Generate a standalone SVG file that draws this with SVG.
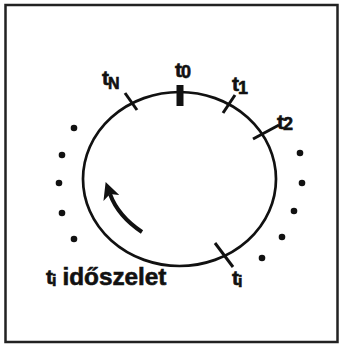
<svg xmlns="http://www.w3.org/2000/svg" width="343" height="344" viewBox="0 0 343 344">
<defs>
<style>
.lbl{font-family:"Liberation Sans",Arial,sans-serif;font-weight:bold;fill:#111;stroke:#111;stroke-width:0.6}
.tick{stroke:#111;stroke-width:3;stroke-linecap:butt}
.dot{fill:#111}
</style>
<marker id="ah" viewBox="0 0 12 12" refX="3" refY="6" markerWidth="17" markerHeight="17" markerUnits="userSpaceOnUse" orient="auto">
<path d="M0,0 L12,6 L0,12 L3,6 Z" fill="#111"/>
</marker>
</defs>
<rect width="343" height="344" fill="#fff"/>
<rect x="5.5" y="5" width="332" height="337" fill="none" stroke="#222" stroke-width="2.5"/>
<g id="clock">
<ellipse cx="179.5" cy="179" rx="96.5" ry="87" fill="none" stroke="#111" stroke-width="2.7"/>
</g>
<g id="connectors">
<line x1="180" y1="85" x2="180" y2="106" stroke="#111" stroke-width="7"/>
<line class="tick" x1="125" y1="93" x2="137" y2="110"/>
<line class="tick" x1="235" y1="95" x2="223" y2="113"/>
<line class="tick" x1="279" y1="125" x2="253" y2="139"/>
<line class="tick" x1="215" y1="243" x2="233" y2="267"/>
<path d="M142,232 Q118,216 110,194" fill="none" stroke="#111" stroke-width="4" marker-end="url(#ah)"/>
</g>
<g id="dots">
<circle class="dot" cx="74" cy="128" r="3.3"/>
<circle class="dot" cx="62" cy="155" r="3.3"/>
<circle class="dot" cx="59" cy="183" r="3.3"/>
<circle class="dot" cx="62" cy="213" r="3.3"/>
<circle class="dot" cx="74" cy="239" r="3.3"/>
<circle class="dot" cx="300" cy="153" r="3.3"/>
<circle class="dot" cx="302" cy="183" r="3.3"/>
<circle class="dot" cx="294" cy="211" r="3.3"/>
<circle class="dot" cx="282" cy="237" r="3.3"/>
<circle class="dot" cx="262" cy="258" r="3.3"/>
</g>
<g id="labels">
<text class="lbl" x="102" y="85" font-size="21">t<tspan font-size="16" dy="4" dx="-1">N</tspan></text>
<text class="lbl" x="175" y="77" font-size="21">t<tspan font-size="18" dy="1" dx="-1">0</tspan></text>
<text class="lbl" x="232" y="91" font-size="21">t<tspan font-size="18" dy="3" dx="-1">1</tspan></text>
<text class="lbl" x="277" y="129" font-size="21">t<tspan font-size="18" dy="1" dx="-1">2</tspan></text>
<text class="lbl" x="232" y="285" font-size="21">t<tspan font-size="16" dy="2" dx="-1">i</tspan></text>
<text class="lbl" x="46" y="284" font-size="21">t<tspan font-size="16" dy="2" dx="-1">i</tspan><tspan font-size="24" dy="-1" dx="6" textLength="104" lengthAdjust="spacingAndGlyphs">időszelet</tspan></text>
</g>
</svg>
